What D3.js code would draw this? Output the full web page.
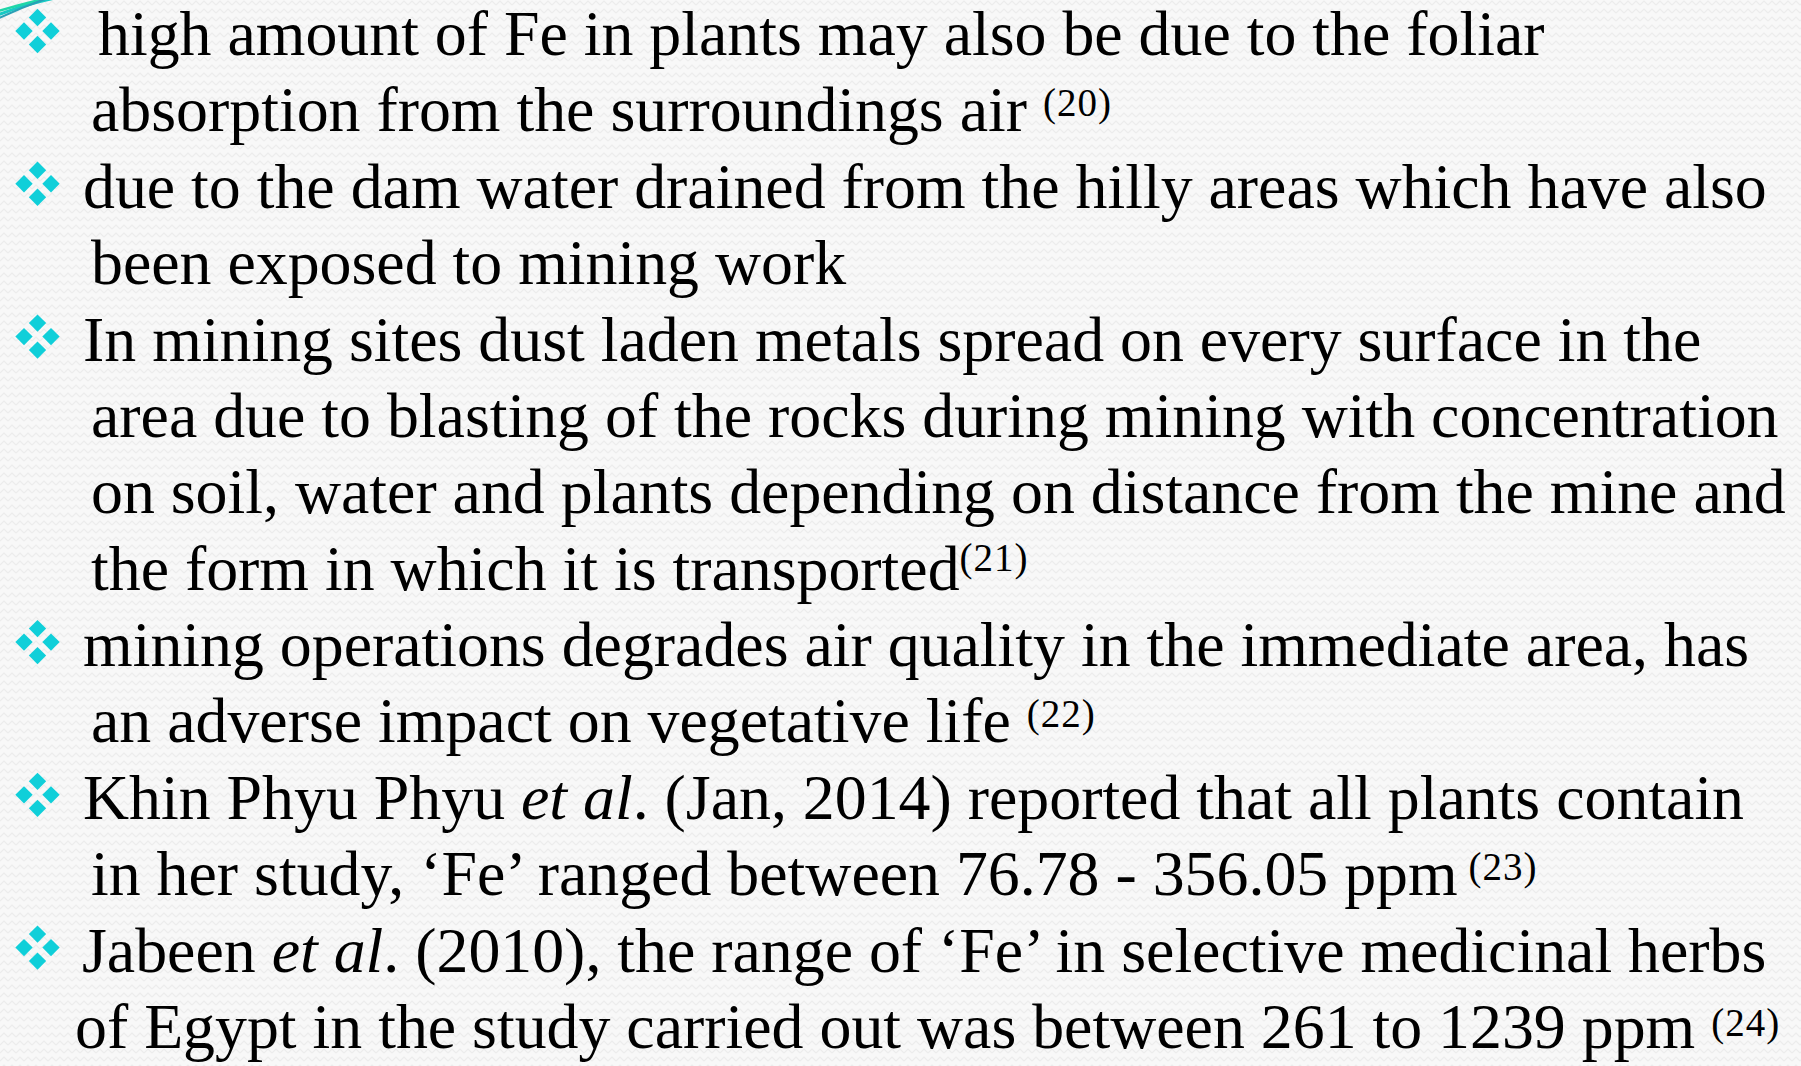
<!DOCTYPE html>
<html>
<head>
<meta charset="utf-8">
<script src="https://cdn.jsdelivr.net/npm/d3@7"></script>
<style>
  html, body { margin: 0; padding: 0; background: #f7f7f7; overflow: hidden; }
  svg { display: block; }
  text { white-space: pre; }
</style>
</head>
<body>
<svg id="slide"></svg>
<script>
// slide text, one entry per printed line: [text, kind] runs
// kind: n = normal, i = italic, s = superscript
const lines = [
  [["high amount of Fe in plants may also be due to the foliar", "n"]],
  [["absorption from the surroundings air ", "n"], ["(20)", "s"]],
  [["due to the dam water drained from the hilly areas which have also", "n"]],
  [["been exposed to mining work", "n"]],
  [["In mining sites dust laden metals spread on every surface in the", "n"]],
  [["area due to blasting of the rocks during mining with concentration", "n"]],
  [["on soil, water and plants depending on distance from the mine and", "n"]],
  [["the form in which it is transported", "n"], ["(21)", "s"]],
  [["mining operations degrades air quality in the immediate area, has", "n"]],
  [["an adverse impact on vegetative life ", "n"], ["(22)", "s"]],
  [["Khin Phyu Phyu ", "n"], ["et al", "i"], [". (Jan, 2014) reported that all plants contain", "n"]],
  [["in her study, \u2018Fe\u2019 ranged between 76.78 - 356.05 ppm", "n"], [" (23)", "s"]],
  [["Jabeen ", "n"], ["et al", "i"], [". (2010), the range of \u2018Fe\u2019 in selective medicinal herbs", "n"]],
  [["of Egypt in the study carried out was between 261 to 1239 ppm ", "n"], ["(24)", "s"]]
];
// which lines start with a bullet
const bulletRows = [0, 2, 4, 8, 10, 12];
// left edge of each line's text
const lineStart = [98, 91, 83, 91, 83, 91, 91, 91, 83, 91, 83, 91, 82, 75];
// superscript lift for each reference mark
const supLift = {"(20)": 15, "(21)": 19, "(22)": 15, " (23)": 15, "(24)": 12};

const W = 1801, H = 1066;
const svg = d3.select('#slide').attr('width', W).attr('height', H);

// faint zig-zag texture of the background
const defs = svg.append('defs');
const pat = defs.append('pattern').attr('id', 'zig')
  .attr('patternUnits', 'userSpaceOnUse').attr('width', 8).attr('height', 8);
pat.append('rect').attr('width', 8).attr('height', 8).attr('fill', '#f8f8f8');
pat.append('path').attr('d', 'M0,5 L4,1 L8,5').attr('fill', 'none')
  .attr('stroke', '#ececec').attr('stroke-width', 1.2);
svg.append('rect').attr('width', W).attr('height', H).attr('fill', 'url(#zig)');

// teal swoosh in the top-left corner
const swoosh = [
  { d: 'M-5,16 Q25,4 60,-3', c: '#17c9c4', w: 3 },
  { d: 'M-5,12 Q28,2 58,-4', c: '#1fd6a8', w: 2.5 },
  { d: 'M-5,20 Q20,8 48,-2', c: '#2a9fb5', w: 2 }
];
svg.selectAll('path.swoosh').data(swoosh).join('path').attr('class', 'swoosh')
  .attr('d', d => d.d).attr('fill', 'none')
  .attr('stroke', d => d.c).attr('stroke-width', d => d.w);

const y = d3.scaleLinear().domain([0, lines.length - 1]).range([55, 1048]);

// fit the body size on the widest bullet line
const probe = svg.append('text').attr('font-family', '"Liberation Serif", "Times New Roman", serif')
  .attr('font-size', 100).text(lines[2][0][0]);
const fontSize = 100 * (1767 - 83) / probe.node().getComputedTextLength();
probe.remove();
const supSize = 39;

const rows = svg.selectAll('text.row').data(lines).join('text')
  .attr('class', 'row')
  .attr('x', (d, i) => lineStart[i])
  .attr('y', (d, i) => y(i))
  .attr('font-family', '"Liberation Serif", "Times New Roman", serif')
  .attr('font-size', fontSize)
  .attr('fill', '#000');

rows.each(function(runs) {
  const t = d3.select(this);
  let lifted = 0;
  runs.forEach(r => {
    const ts = t.append('tspan').text(r[0]);
    if (r[1] === 'i') ts.attr('font-style', 'italic');
    if (r[1] === 's') {
      ts.attr('font-size', supSize).attr('letter-spacing', 1).attr('dy', -supLift[r[0]]);
      lifted += supLift[r[0]];
    } else if (lifted) {
      ts.attr('dy', lifted);
      lifted = 0;
    }
  });
});

// four-diamond bullets
const diamond = d3.symbol().type(d3.symbolSquare).size(150);
const offs = [[0, -13.5], [13.5, 0], [0, 13.5], [-13.5, 0]];
const bullets = svg.selectAll('g.bullet').data(bulletRows).join('g')
  .attr('class', 'bullet')
  .attr('transform', d => `translate(37.5,${y(d) - 24})`);
bullets.selectAll('path').data(offs).join('path')
  .attr('d', diamond)
  .attr('transform', o => `translate(${o[0]},${o[1]}) rotate(45)`)
  .attr('fill', '#10cfd9');
</script>
</body>
</html>
